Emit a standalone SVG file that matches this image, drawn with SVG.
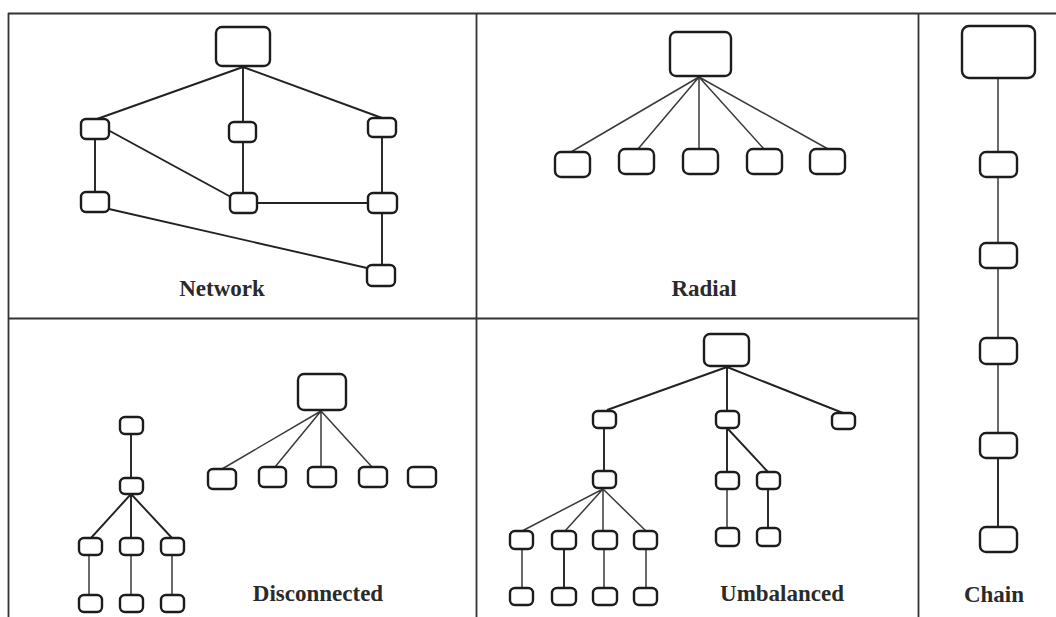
<svg xmlns="http://www.w3.org/2000/svg" width="1056" height="617" viewBox="0 0 1056 617">
<style>
.frame{stroke:#333;stroke-width:1.8;fill:none}
.n{fill:#fff;stroke:#1c1c1c;stroke-width:2.4}
.e{stroke:#222;stroke-width:1.9;fill:none}
.t{stroke:#3a3a3a;stroke-width:1.5;fill:none}
.lbl{font-family:"Liberation Serif",serif;font-weight:bold;font-size:23px;fill:#2a2a2a;text-anchor:middle}
</style>
<rect width="1056" height="617" fill="#fff"/>
<g id="frame">
<path class="frame" d="M8,13.5H1056 M8.5,13V617 M476.5,13V617 M918.5,13V617 M8,318.5H918"/>
</g>
<g id="connectors">
<path class="e" d="M243,67L97,119 M243,67V122 M243,67L382,118 M108,130L231,197 M95,139V192 M243,142V193 M257,203H368 M382,137V193 M109,209L367,268 M382,213V265"/>
<path class="t" d="M699,77L571,152 M699,77L638,149 M699,77V149 M699,77L764,149 M699,77L828,149"/>
<path class="t" d="M998,78V152 M998,177V243 M998,268V338 M998,364V433"/>
<path class="e" d="M998,458V527"/>
<path class="t" d="M321,411L222,469 M321,411L275,467 M321,411V467 M321,411L372,467"/>
<path class="e" d="M131,434V478 M131,494L91,538 M131,494V537 M131,494L172,538"/>
<path class="t" d="M89,555V595 M131,555V595 M172,555V595"/>
<path class="e" d="M727,367L607,410 M727,367V411 M727,367L843,413 M604,428V471 M727,428V472 M728,429L768,472 M768,489V528 M564,549V588"/>
<path class="t" d="M603,489L522,531 M603,489L565,531 M603,489V531 M603,489L646,531 M727,489V528 M522,549V588 M604,549V588 M646,549V588"/>
</g>
<g id="network">
<rect class="n" x="216" y="27" width="54" height="39" rx="6"/>
<rect class="n" x="81" y="119" width="28" height="20" rx="5"/>
<rect class="n" x="229" y="122" width="27" height="20" rx="5"/>
<rect class="n" x="368" y="118" width="28" height="19" rx="5"/>
<rect class="n" x="81" y="192" width="28" height="20" rx="5"/>
<rect class="n" x="230" y="193" width="27" height="20" rx="5"/>
<rect class="n" x="368" y="193" width="29" height="20" rx="5"/>
<rect class="n" x="367" y="265" width="28" height="21" rx="5"/>
<text class="lbl" x="222" y="296">Network</text>
</g>
<g id="radial">
<rect class="n" x="670" y="32" width="61" height="44" rx="6"/>
<rect class="n" x="555" y="152" width="35" height="25" rx="6"/>
<rect class="n" x="619" y="149" width="35" height="25" rx="6"/>
<rect class="n" x="683" y="149" width="35" height="25" rx="6"/>
<rect class="n" x="747" y="149" width="35" height="25" rx="6"/>
<rect class="n" x="810" y="149" width="35" height="25" rx="6"/>
<text class="lbl" x="704" y="296">Radial</text>
</g>
<g id="chain">
<rect class="n" x="962" y="26" width="73" height="52" rx="7"/>
<rect class="n" x="980" y="152" width="37" height="25" rx="6"/>
<rect class="n" x="980" y="243" width="37" height="25" rx="6"/>
<rect class="n" x="980" y="338" width="37" height="26" rx="6"/>
<rect class="n" x="980" y="433" width="37" height="25" rx="6"/>
<rect class="n" x="980" y="527" width="37" height="25" rx="6"/>
<text class="lbl" x="994" y="602">Chain</text>
</g>
<g id="disconnected">
<rect class="n" x="298" y="374" width="48" height="36" rx="6"/>
<rect class="n" x="208" y="469" width="28" height="20" rx="5"/>
<rect class="n" x="259" y="467" width="27" height="20" rx="5"/>
<rect class="n" x="308" y="467" width="28" height="20" rx="5"/>
<rect class="n" x="359" y="467" width="28" height="20" rx="5"/>
<rect class="n" x="408" y="467" width="28" height="20" rx="5"/>
<rect class="n" x="120" y="417" width="23" height="17" rx="5"/>
<rect class="n" x="120" y="478" width="23" height="16" rx="5"/>
<rect class="n" x="79" y="538" width="23" height="17" rx="5"/>
<rect class="n" x="120" y="538" width="23" height="17" rx="5"/>
<rect class="n" x="161" y="538" width="23" height="17" rx="5"/>
<rect class="n" x="79" y="595" width="23" height="17" rx="5"/>
<rect class="n" x="120" y="595" width="23" height="17" rx="5"/>
<rect class="n" x="161" y="595" width="23" height="17" rx="5"/>
<text class="lbl" x="318" y="601">Disconnected</text>
</g>
<g id="umbalanced">
<rect class="n" x="704" y="334" width="45" height="32" rx="6"/>
<rect class="n" x="593" y="411" width="23" height="17" rx="5"/>
<rect class="n" x="716" y="411" width="23" height="17" rx="5"/>
<rect class="n" x="832" y="413" width="23" height="16" rx="5"/>
<rect class="n" x="593" y="471" width="23" height="17" rx="5"/>
<rect class="n" x="716" y="472" width="23" height="17" rx="5"/>
<rect class="n" x="757" y="472" width="23" height="17" rx="5"/>
<rect class="n" x="510" y="531" width="23" height="18" rx="5"/>
<rect class="n" x="552" y="531" width="24" height="18" rx="5"/>
<rect class="n" x="593" y="531" width="24" height="18" rx="5"/>
<rect class="n" x="634" y="531" width="23" height="18" rx="5"/>
<rect class="n" x="716" y="528" width="23" height="18" rx="5"/>
<rect class="n" x="757" y="528" width="23" height="18" rx="5"/>
<rect class="n" x="510" y="588" width="23" height="17" rx="5"/>
<rect class="n" x="552" y="588" width="24" height="17" rx="5"/>
<rect class="n" x="593" y="588" width="24" height="17" rx="5"/>
<rect class="n" x="634" y="588" width="23" height="17" rx="5"/>
<text class="lbl" x="782" y="601">Umbalanced</text>
</g>
</svg>
